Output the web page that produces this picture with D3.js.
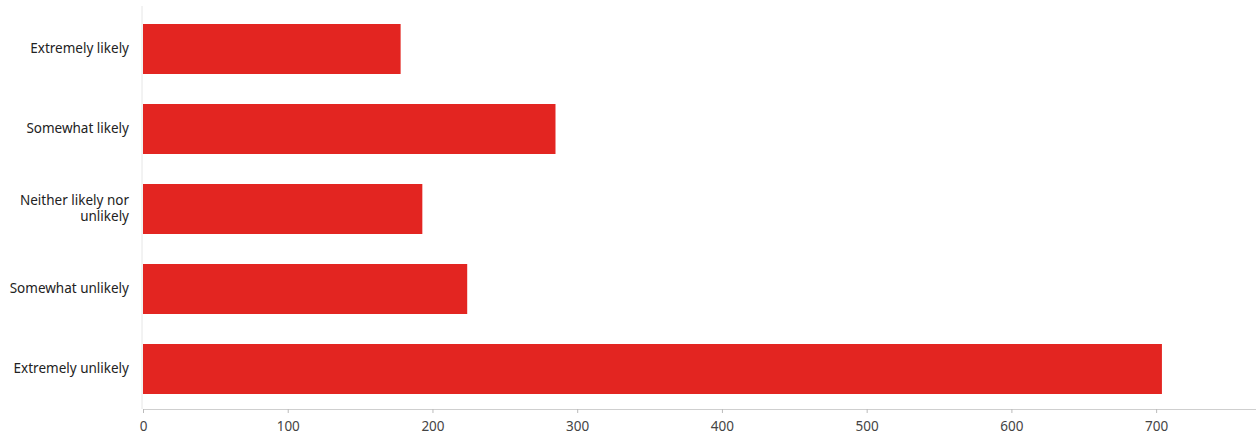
<!DOCTYPE html>
<html>
<head>
<meta charset="utf-8">
<script src="https://cdn.jsdelivr.net/npm/d3@7"></script>
<style>
  body { margin: 0; background: #fff; }
  text { font-family: "Noto Sans", sans-serif; }
</style>
</head>
<body>
<script>
const categories = ['Extremely likely', 'Somewhat likely', 'Neither likely nor unlikely', 'Somewhat unlikely', 'Extremely unlikely'];
const labelLines = [['Extremely likely'], ['Somewhat likely'], ['Neither likely nor', 'unlikely'], ['Somewhat unlikely'], ['Extremely unlikely']];
const values = [178, 285, 193, 224, 704];
const xTicks = [0, 100, 200, 300, 400, 500, 600, 700];

const w = 1256;
const h = 438;
const left = 143;
const axisY = 409;

const xScale = d3.scaleLinear()
                 .domain([0, 769])
                 .range([left, w]);

const yScale = d3.scaleBand()
                 .domain(categories)
                 .range([9, axisY])
                 .paddingInner(0.375)
                 .paddingOuter(0.1875);

const svg = d3.select('body')
              .append('svg')
              .attr('width', w)
              .attr('height', h);

// faint left axis line
svg.append('line')
   .attr('x1', left - 1).attr('x2', left - 1)
   .attr('y1', 6).attr('y2', axisY)
   .attr('stroke', '#e6e6e6');

svg.selectAll('rect.bar')
   .data(values)
   .enter()
   .append('rect')
   .attr('class', 'bar')
   .attr('x', xScale(0))
   .attr('y', (d, i) => yScale(categories[i]))
   .attr('width', (d) => xScale(d) - xScale(0))
   .attr('height', yScale.bandwidth())
   .attr('fill', '#e32521');

const xAxis = d3.axisBottom(xScale).tickValues(xTicks).tickSize(4).tickSizeOuter(0);
const gx = svg.append('g')
   .attr('id', 'x-axis')
   .attr('transform', 'translate(0,' + axisY + ')')
   .call(xAxis);
gx.select('.domain').attr('stroke', '#cfcfcf');
gx.selectAll('.tick line').attr('stroke', '#bbb');
gx.selectAll('.tick text')
  .attr('fill', '#444')
  .attr('font-size', 13.5)
  .attr('font-family', '"Noto Sans", sans-serif')
  .attr('dy', '1.1em');

// category labels
const labels = svg.append('g').attr('id', 'y-labels');
labelLines.forEach((lines, i) => {
  const cy = yScale(categories[i]) + yScale.bandwidth() / 2;
  const t = labels.append('text')
    .attr('x', 129)
    .attr('y', cy - (lines.length - 1) * 8)
    .attr('text-anchor', 'end')
    .attr('dominant-baseline', 'middle')
    .attr('font-size', 13.5)
    .attr('fill', '#222');
  lines.forEach((ln, j) => {
    t.append('tspan')
     .attr('x', 129)
     .attr('dy', j === 0 ? 0 : 16)
     .text(ln);
  });
});
</script>
</body>
</html>
